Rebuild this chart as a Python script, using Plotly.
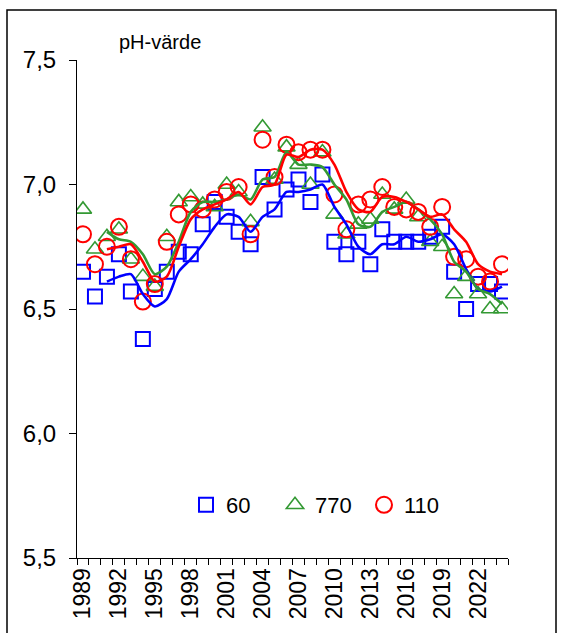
import plotly.graph_objects as go

years = list(range(1989, 2025))

# site 60 (blue squares)
ph_60 = [6.65, 6.55, 6.63, 6.72, 6.57, 6.38, 6.58, 6.65, 6.73, 6.72,
         6.84, 6.93, 6.87, 6.81, 6.76, 7.03, 6.90, 6.98, 7.02, 6.93,
         7.04, 6.77, 6.72, 6.77, 6.68, 6.82, 6.77, 6.77, 6.77, 6.79,
         6.83, 6.65, 6.50, 6.60, 6.60, 6.57]
# site 770 (green triangles)
ph_770 = [6.90, 6.74, 6.79, 6.82, 6.70, 6.63, 6.59, 6.79, 6.93, 6.95,
          6.92, 6.91, 7.00, 6.97, 6.85, 7.23, 7.02, 7.15, 7.08, 7.00,
          7.13, 6.88, 6.80, 6.84, 6.86, 6.96, 6.90, 6.94, 6.87, 6.77,
          6.75, 6.56, 6.63, 6.56, 6.50, 6.50]
# site 110 (red circles)
ph_110 = [6.80, 6.68, 6.75, 6.83, 6.70, 6.53, 6.60, 6.77, 6.88, 6.92,
          6.90, 6.94, 6.97, 6.99, 6.80, 7.18, 7.03, 7.16, 7.13, 7.14,
          7.14, 6.96, 6.82, 6.92, 6.94, 6.99, 6.91, 6.90, 6.89, 6.83,
          6.91, 6.71, 6.70, 6.63, 6.61, 6.68]

# trend lines, 1991-2024
trend_years = list(range(1991, 2025))
trend_60 = [6.61, 6.63, 6.64, 6.56, 6.51, 6.54, 6.65, 6.70, 6.76, 6.83,
            6.88, 6.87, 6.81, 6.87, 6.90, 6.97, 6.97, 6.98, 7.00, 6.91,
            6.84, 6.75, 6.72, 6.76, 6.76, 6.79, 6.77, 6.78, 6.80, 6.76,
            6.66, 6.58, 6.57, 6.59]
trend_770 = [6.81, 6.78, 6.77, 6.72, 6.64, 6.67, 6.77, 6.89, 6.93, 6.93,
             6.94, 6.96, 6.94, 7.02, 7.03, 7.13, 7.08, 7.08, 7.07, 7.00,
             6.94, 6.84, 6.83, 6.89, 6.91, 6.93, 6.90, 6.86, 6.80, 6.69,
             6.65, 6.58, 6.56, 6.52]
trend_110 = [6.74, 6.75, 6.76, 6.69, 6.61, 6.63, 6.75, 6.86, 6.90, 6.92,
             6.94, 6.97, 6.92, 6.99, 7.00, 7.12, 7.11, 7.14, 7.14, 7.08,
             6.97, 6.90, 6.89, 6.95, 6.95, 6.93, 6.90, 6.87, 6.88, 6.82,
             6.77, 6.68, 6.65, 6.64]

x_tick_years = list(range(1989, 2023, 3))
y_ticks = [5.5, 6.0, 6.5, 7.0, 7.5]

BLUE = "#0000FF"
GREEN = "#339933"
RED = "#FF0000"
FONT = "Liberation Sans, Arial, sans-serif"

fig = go.Figure()

fig.add_trace(go.Scatter(x=years, y=ph_60, mode="markers", name="60",
                         marker=dict(symbol="square-open", size=14, color=BLUE,
                                     line=dict(width=2, color=BLUE))))
fig.add_trace(go.Scatter(x=years, y=ph_770, mode="markers", name="770",
                         marker=dict(symbol="triangle-up-open", size=15, color=GREEN,
                                     line=dict(width=1.6, color=GREEN))))
fig.add_trace(go.Scatter(x=years, y=ph_110, mode="markers", name="110",
                         marker=dict(symbol="circle-open", size=16, color=RED,
                                     line=dict(width=2, color=RED))))

for ty, col in ((trend_60, BLUE), (trend_770, GREEN), (trend_110, RED)):
    fig.add_trace(go.Scatter(x=trend_years, y=ty, mode="lines", showlegend=False,
                             line=dict(color=col, width=2.6, shape="spline",
                                       smoothing=0.7),
                             hoverinfo="skip"))

fig.update_layout(
    width=562, height=633,
    margin=dict(l=77, r=54, t=60, b=75),
    paper_bgcolor="white", plot_bgcolor="white",
    separators=", ",
    font=dict(family=FONT, color="black", size=20),
    showlegend=True,
    legend=dict(orientation="h", x=(186 - 77) / 431, xanchor="left",
                y=(558 - 505) / 498, yanchor="middle",
                bgcolor="rgba(0,0,0,0)",
                font=dict(size=22, family=FONT),
                entrywidthmode="pixels", entrywidth=44,
                tracegroupgap=0),
    xaxis=dict(range=[1988.5, 2024.5], tickmode="array", tickvals=x_tick_years,
               ticktext=[str(v) for v in x_tick_years], tickangle=-90,
               ticks="", showgrid=False, zeroline=False, showline=True,
               linecolor="black", linewidth=1,
               tickfont=dict(size=23, family=FONT),
               minor=dict(tick0=1988.5, dtick=1, ticks="outside", ticklen=6,
                          tickcolor="black", tickwidth=1, showgrid=False)),
    yaxis=dict(range=[5.5, 7.5], tickmode="array", tickvals=y_ticks,
               tickformat=".1f", ticks="outside", ticklen=7, tickcolor="black",
               tickwidth=1, showgrid=False, zeroline=False, showline=True,
               linecolor="black", linewidth=1, ticklabelstandoff=8,
               tickfont=dict(size=24, family=FONT)),
)

fig.add_annotation(text="pH-värde", xref="paper", yref="paper",
                   x=(117 - 77) / 431, y=(558 - 42) / 498,
                   xanchor="left", yanchor="middle", showarrow=False,
                   font=dict(size=20, family=FONT, color="black"))

fig.add_shape(type="rect", xref="paper", yref="paper",
              x0=(7 - 77) / 431, x1=(556 - 77) / 431,
              y0=(558 - 645) / 498, y1=(558 - 10) / 498,
              line=dict(color="black", width=1.5), fillcolor="rgba(0,0,0,0)",
              layer="below")

fig.write_html("out.html",
               config={"displayModeBar": False},
               post_script="document.body.style.margin='0';"
                           "document.body.style.padding='0';"
                           "document.body.style.overflow='hidden';")
